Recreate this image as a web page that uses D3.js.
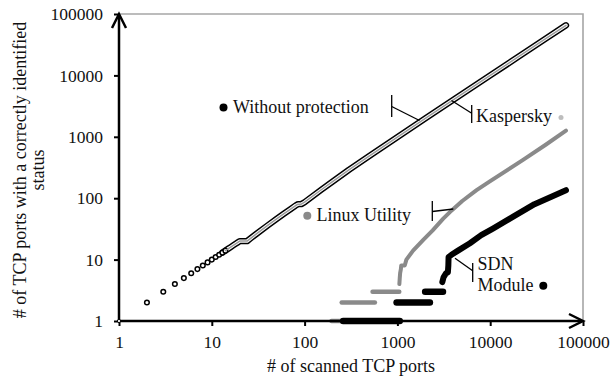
<!DOCTYPE html>
<html>
<head>
<meta charset="utf-8">
<script src="https://cdn.jsdelivr.net/npm/d3@7"></script>
<style>
  body { margin: 0; background: #fff; }
</style>
</head>
<body>
<svg id="chart" width="611" height="381"></svg>
<script>
// tick labels
const xTicks = [1, 10, 100, 1000, 10000, 100000];
const yTicks = [1, 10, 100, 1000, 10000, 100000];

// Without protection: [scanned ports, correctly identified]
const withoutProtection = [
  [1, 1], [2, 2], [3, 3], [4, 4], [5, 5], [6, 6], [7, 7], [8, 8], [9, 9], [10, 10],
  [11, 11], [12, 12], [13, 13], [14, 14], [15, 15], [16, 16], [17, 17], [18, 18], [19, 19],
  [20, 20], [22, 20], [24, 20], [26, 22], [30, 26], [40, 36], [50, 46], [60, 56], [70, 66],
  [80, 76], [85, 80], [92, 80], [100, 86], [150, 136], [200, 186], [300, 290], [500, 490],
  [1000, 990], [2000, 1990], [5000, 4990], [10000, 9990], [20000, 19990], [40000, 39990], [65535, 65535]
];
// Kaspersky overlaps Without protection almost exactly
const kaspersky = [
  [14, 14], [20, 20], [22, 20], [24, 20], [26, 22], [30, 26], [40, 36], [50, 46], [60, 56], [70, 66],
  [80, 76], [85, 80], [92, 80], [100, 86], [150, 136], [200, 186], [300, 290], [500, 490],
  [1000, 990], [2000, 1990], [5000, 4990], [10000, 9990], [20000, 19990], [40000, 39990], [65535, 65535]
];
// Linux Utility: flat runs [from, to, value] then rising part
const linuxSteps = [[195, 260, 1], [251, 572, 2], [540, 1047, 3]];
const linuxCurve = [
  [1050, 4], [1060, 5], [1070, 6], [1090, 7], [1100, 8], [1200, 8], [1250, 10], [1475, 14],
  [1900, 21], [2400, 30], [3100, 46], [3700, 60], [3980, 66], [5000, 90], [7130, 135],
  [7760, 147], [10000, 190], [22600, 420], [40000, 750], [65535, 1260]
];
// SDN Module
const sdnSteps = [[260, 1060, 1], [980, 2240, 2], [1990, 3100, 3]];
const sdnCurve = [
  [3050, 4.3], [3150, 5.2], [3350, 6], [3500, 6.2], [3540, 8], [3560, 11], [3830, 12],
  [4500, 14], [6050, 18.5], [8000, 25], [10700, 32], [17700, 50], [30000, 80],
  [45000, 105], [65535, 135]
];

const svg = d3.select('#chart');
const x = d3.scaleLog().domain([1, 100000]).range([119, 583]);
const y = d3.scaleLog().domain([1, 100000]).range([321, 14]);

const GRAY = '#8a8a8a';
const FONT = "'Liberation Serif', 'Times New Roman', Times, 'Noto Serif', 'DejaVu Serif', FreeSerif, serif";

// grey frame (top / right)
svg.append('path')
  .attr('d', `M${x(1)},${y(100000)}H${x(100000)}V${y(1)}`)
  .attr('fill', 'none').attr('stroke', '#a6a6a6').attr('stroke-width', 1.6);

// axes
const xAxis = d3.axisBottom(x).tickValues(xTicks).tickFormat(d3.format('d'))
  .tickSizeInner(5).tickSizeOuter(0).tickPadding(10);
const yAxis = d3.axisLeft(y).tickValues(yTicks).tickFormat(d3.format('d'))
  .tickSizeInner(5).tickSizeOuter(0).tickPadding(11);

const gx = svg.append('g').attr('transform', `translate(0,${y(1)})`).call(xAxis);
const gy = svg.append('g').attr('transform', `translate(${x(1)},0)`).call(yAxis);
[gx, gy].forEach(g => {
  g.attr('font-family', FONT);
  g.select('.domain').remove();
  g.selectAll('.tick line').attr('stroke', '#000').attr('stroke-width', 2);
  g.selectAll('.tick text').attr('font-size', 17.5).attr('fill', '#111');
});

const line = d3.line().x(d => x(d[0])).y(d => y(d[1]));

// Linux Utility (grey)
const linux = svg.append('g');
linuxSteps.forEach(s => {
  linux.append('path').attr('d', line([[s[0], s[2]], [s[1], s[2]]]))
    .attr('stroke', GRAY).attr('stroke-width', 4.5).attr('stroke-linecap', 'round').attr('fill', 'none');
});
linux.append('path').attr('d', line(linuxCurve))
  .attr('stroke', GRAY).attr('stroke-width', 4).attr('stroke-linecap', 'round')
  .attr('stroke-linejoin', 'round').attr('fill', 'none');

// SDN Module (black)
const sdn = svg.append('g');
sdnSteps.forEach(s => {
  sdn.append('path').attr('d', line([[s[0], s[2]], [s[1], s[2]]]))
    .attr('stroke', '#000').attr('stroke-width', 6.5).attr('stroke-linecap', 'round').attr('fill', 'none');
});
sdn.append('path').attr('d', line(sdnCurve))
  .attr('stroke', '#000').attr('stroke-width', 6).attr('stroke-linecap', 'round')
  .attr('stroke-linejoin', 'round').attr('fill', 'none');

// Without protection: separate hollow circles at low x, a tube where they merge
const dense = withoutProtection.filter(d => d[0] >= 13);
svg.append('path').attr('d', line(dense))
  .attr('stroke', '#000').attr('stroke-width', 6.4).attr('stroke-linecap', 'round')
  .attr('stroke-linejoin', 'round').attr('fill', 'none');
svg.append('path').attr('d', line(dense))
  .attr('stroke', '#fff').attr('stroke-width', 3.4).attr('stroke-linecap', 'round')
  .attr('stroke-linejoin', 'round').attr('fill', 'none');
svg.append('g').selectAll('circle')
  .data(withoutProtection.filter(d => d[0] >= 2 && d[0] <= 14))
  .join('circle')
  .attr('cx', d => x(d[0])).attr('cy', d => y(d[1])).attr('r', 2.3)
  .attr('fill', '#fff').attr('stroke', '#000').attr('stroke-width', 1.5);

// Kaspersky: grey core
svg.append('path').attr('d', line(kaspersky))
  .attr('stroke', '#9a9a9a').attr('stroke-width', 1.5).attr('stroke-linecap', 'round')
  .attr('stroke-linejoin', 'round').attr('fill', 'none');

// axis lines with open arrowheads
const ax = svg.append('g').attr('fill', 'none').attr('stroke', '#000')
  .attr('stroke-width', 2.5).attr('stroke-linejoin', 'miter');
ax.append('path').attr('d', `M${x(1)},${y(1)}V${y(100000) + 1}`);
ax.append('path').attr('d', `M${x(1)},${y(1)}H${x(100000) - 1}`);
ax.append('path').attr('d', `M${x(1) - 7},${y(100000) + 14}L${x(1)},${y(100000)}L${x(1) + 7},${y(100000) + 14}`);
ax.append('path').attr('d', `M${x(100000) - 14},${y(1) - 7}L${x(100000)},${y(1)}L${x(100000) - 14},${y(1) + 7}`);

// small origin marker (point 1,1)
svg.append('circle').attr('cx', x(withoutProtection[0][0])).attr('cy', y(withoutProtection[0][1])).attr('r', 1.6)
  .attr('fill', '#fff').attr('stroke', '#000').attr('stroke-width', 1);

// axis titles
svg.append('text').attr('x', 351).attr('y', 372).attr('text-anchor', 'middle')
  .attr('font-family', FONT).attr('font-size', 18).attr('fill', '#111').text('# of scanned TCP ports');
const yt = svg.append('text').attr('transform', 'translate(26,170) rotate(-90)')
  .attr('text-anchor', 'middle').attr('font-family', FONT).attr('font-size', 18).attr('fill', '#111');
yt.append('tspan').attr('x', 0).attr('y', 0).text('# of TCP ports with a correctly identified');
yt.append('tspan').attr('x', 0).attr('y', 17.5).text('status');

// series labels and leader lines
const ann = svg.append('g').attr('font-family', FONT).attr('font-size', 18).attr('fill', '#111');
const lead = (pts) => ann.append('path').attr('d', d3.line()(pts))
  .attr('fill', 'none').attr('stroke', '#000').attr('stroke-width', 1.3);

ann.append('circle').attr('cx', 223.5).attr('cy', 107.5).attr('r', 4).attr('fill', '#000');
ann.append('text').attr('x', 233).attr('y', 113).text('Without protection');
lead([[391.7, 95], [391.7, 117]]);
lead([[391.7, 106.5], [419.5, 120.5]]);

ann.append('text').attr('x', 476).attr('y', 121.5).text('Kaspersky');
ann.append('circle').attr('cx', 561).attr('cy', 117.5).attr('r', 2.5).attr('fill', '#bdbdbd');
lead([[471.7, 105], [471.7, 123]]);
lead([[471.7, 113.3], [451.5, 100.5]]);

ann.append('circle').attr('cx', 307.3).attr('cy', 215.7).attr('r', 4).attr('fill', GRAY);
ann.append('text').attr('x', 316.5).attr('y', 221).text('Linux Utility');
lead([[432.3, 201], [432.3, 221]]);
lead([[432.3, 211.5], [453.3, 209]]);

ann.append('text').attr('x', 477.5).attr('y', 270).text('SDN');
ann.append('text').attr('x', 477.5).attr('y', 291).text('Module');
ann.append('circle').attr('cx', 543.3).attr('cy', 285.7).attr('r', 4).attr('fill', '#000');
lead([[472.7, 263], [472.7, 282]]);
lead([[472.7, 270.7], [455, 258.3]]);
</script>
</body>
</html>
